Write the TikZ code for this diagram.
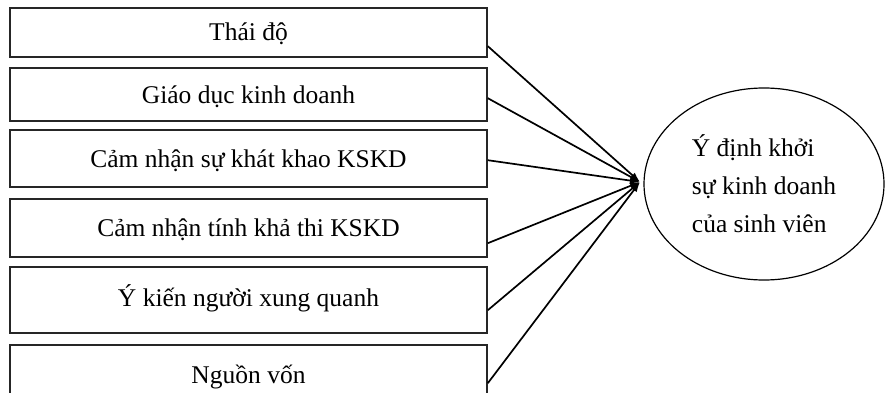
\documentclass[tikz,border=0pt]{standalone}
\usepackage{fontspec}
\setmainfont{Liberation Serif}
\usetikzlibrary{arrows.meta,shapes.geometric,calc}

\begin{document}
\begin{tikzpicture}[x=1pt,y=-1pt,
  factor/.style={draw=black!85, line width=1.6pt, rectangle, minimum width=477pt,
    inner sep=0pt, text height=17pt, text depth=0pt,
    font=\fontsize{25.5}{30}\selectfont},
  outcome/.style={draw=black, line width=1.2pt, ellipse, minimum width=240pt,
    minimum height=192pt, inner sep=0pt, align=left,
    font=\fontsize{25.5}{38}\selectfont},
  link/.style={line width=1.7pt, -{Latex[length=10pt,width=7pt]}}]
  \useasboundingbox (0,0) rectangle (885,393);
  \clip (0,0) rectangle (885,393);

  % factor boxes (text depth shifts each label up or down inside its box)
  \node[factor, minimum height=49pt, text depth=-8.5pt] (b1) at (248.5,32.5)  {Thái độ};
  \node[factor, minimum height=53pt, text depth=-3pt]   (b2) at (248.5,94.5)  {Giáo dục kinh doanh};
  \node[factor, minimum height=57pt, text depth=-1pt]   (b3) at (248.5,158.5) {Cảm nhận sự khát khao KSKD};
  \node[factor, minimum height=58pt, text depth=-4pt]   (b4) at (248.5,228)   {Cảm nhận tính khả thi KSKD};
  \node[factor, minimum height=66pt, text depth=5pt]    (b5) at (248.5,300)   {Ý kiến người xung quanh};
  \node[factor, minimum height=65pt, text depth=6pt]    (b6) at (248.5,377.5) {Nguồn vốn};

  % outcome ellipse
  \node[outcome] (goal) at (764,184) {Ý định khởi\\sự kinh doanh\\của sinh viên};
  \coordinate (hub) at (640,182);

  % connectors
  \draw[link] ($(b1.north east)+(0,39)$) -- (hub);
  \draw[link] ($(b2.north east)+(0,31)$) -- (hub);
  \draw[link] ($(b3.north east)+(0,31)$) -- (hub);
  \draw[link] ($(b4.north east)+(0,45)$) -- (hub);
  \draw[link] ($(b5.north east)+(0,44)$) -- (hub);
  \draw[link] ($(b6.north east)+(0,39)$) -- (hub);
\end{tikzpicture}
\end{document}
